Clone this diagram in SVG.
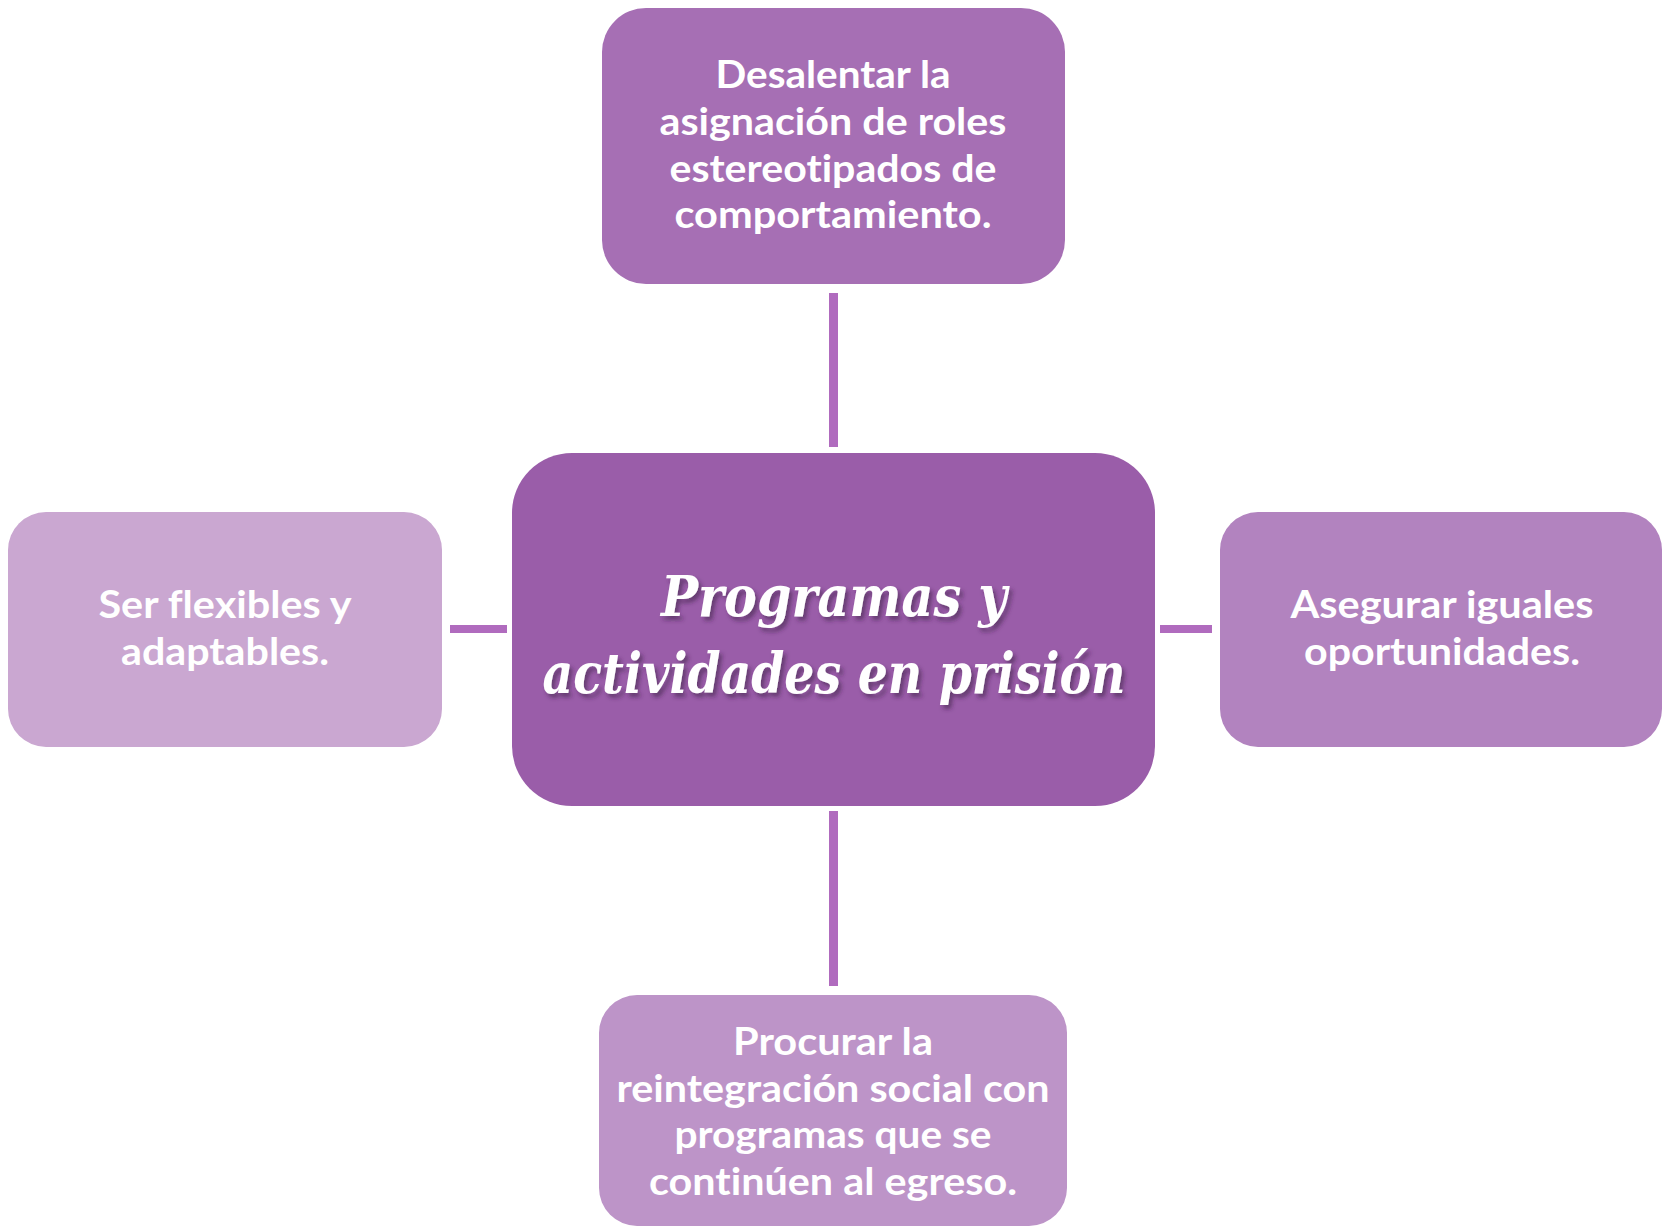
<svg xmlns="http://www.w3.org/2000/svg" width="1662" height="1229" viewBox="0 0 1662 1229">
<style>
.lbl{font-family:Lato,"Open Sans","Liberation Sans",sans-serif;font-weight:bold;font-size:38px;fill:#ffffff;text-anchor:middle;font-variant-ligatures:none}
.ttl{font-family:"DejaVu Serif","Liberation Serif",serif;font-weight:bold;font-style:italic;font-size:56px;fill:#ffffff;text-anchor:middle}
.conn{fill:#B06BBE}
</style>
<defs>
<filter id="sh" x="-10%" y="-30%" width="120%" height="160%">
<feDropShadow dx="3" dy="4" stdDeviation="2" flood-color="#3b1f45" flood-opacity="0.55"/>
</filter>
</defs>
<rect width="1662" height="1229" fill="#ffffff"/>
<g id="connectors">
<rect class="conn" x="829" y="293" width="9" height="154"/>
<rect class="conn" x="829" y="811" width="9" height="175"/>
<rect class="conn" x="450" y="625" width="57" height="8"/>
<rect class="conn" x="1160" y="625" width="52" height="8"/>
</g>
<g id="node-top">
<rect x="602" y="8" width="463" height="276" rx="44" fill="#A66FB4"/>
<text class="lbl" x="833" y="88" textLength="235" lengthAdjust="spacingAndGlyphs">Desalentar la</text>
<text class="lbl" x="833" y="135" textLength="347" lengthAdjust="spacingAndGlyphs">asignación de roles</text>
<text class="lbl" x="833" y="182" textLength="327" lengthAdjust="spacingAndGlyphs">estereotipados de</text>
<text class="lbl" x="833" y="228" textLength="317" lengthAdjust="spacingAndGlyphs">comportamiento.</text>
</g>
<g id="node-center">
<rect x="512" y="453" width="643" height="353" rx="60" fill="#9A5DA9"/>
<text class="ttl" x="834" y="616" textLength="346" lengthAdjust="spacingAndGlyphs" filter="url(#sh)">Programas y</text>
<text class="ttl" x="834" y="693" textLength="583" lengthAdjust="spacingAndGlyphs" filter="url(#sh)">actividades en prisión</text>
</g>
<g id="node-left">
<rect x="8" y="512" width="434" height="235" rx="38" fill="#CAA7D1"/>
<text class="lbl" x="225" y="618" textLength="253" lengthAdjust="spacingAndGlyphs">Ser flexibles y</text>
<text class="lbl" x="225" y="665" textLength="208" lengthAdjust="spacingAndGlyphs">adaptables.</text>
</g>
<g id="node-right">
<rect x="1220" y="512" width="442" height="235" rx="38" fill="#B283BF"/>
<text class="lbl" x="1442" y="618" textLength="303" lengthAdjust="spacingAndGlyphs">Asegurar iguales</text>
<text class="lbl" x="1442" y="665" textLength="276" lengthAdjust="spacingAndGlyphs">oportunidades.</text>
</g>
<g id="node-bottom">
<rect x="599" y="995" width="468" height="231" rx="38" fill="#BD94C8"/>
<text class="lbl" x="833" y="1055" textLength="200" lengthAdjust="spacingAndGlyphs">Procurar la</text>
<text class="lbl" x="833" y="1102" textLength="433" lengthAdjust="spacingAndGlyphs">reintegración social con</text>
<text class="lbl" x="833" y="1148" textLength="317" lengthAdjust="spacingAndGlyphs">programas que se</text>
<text class="lbl" x="833" y="1195" textLength="368" lengthAdjust="spacingAndGlyphs">continúen al egreso.</text>
</g>
</svg>
